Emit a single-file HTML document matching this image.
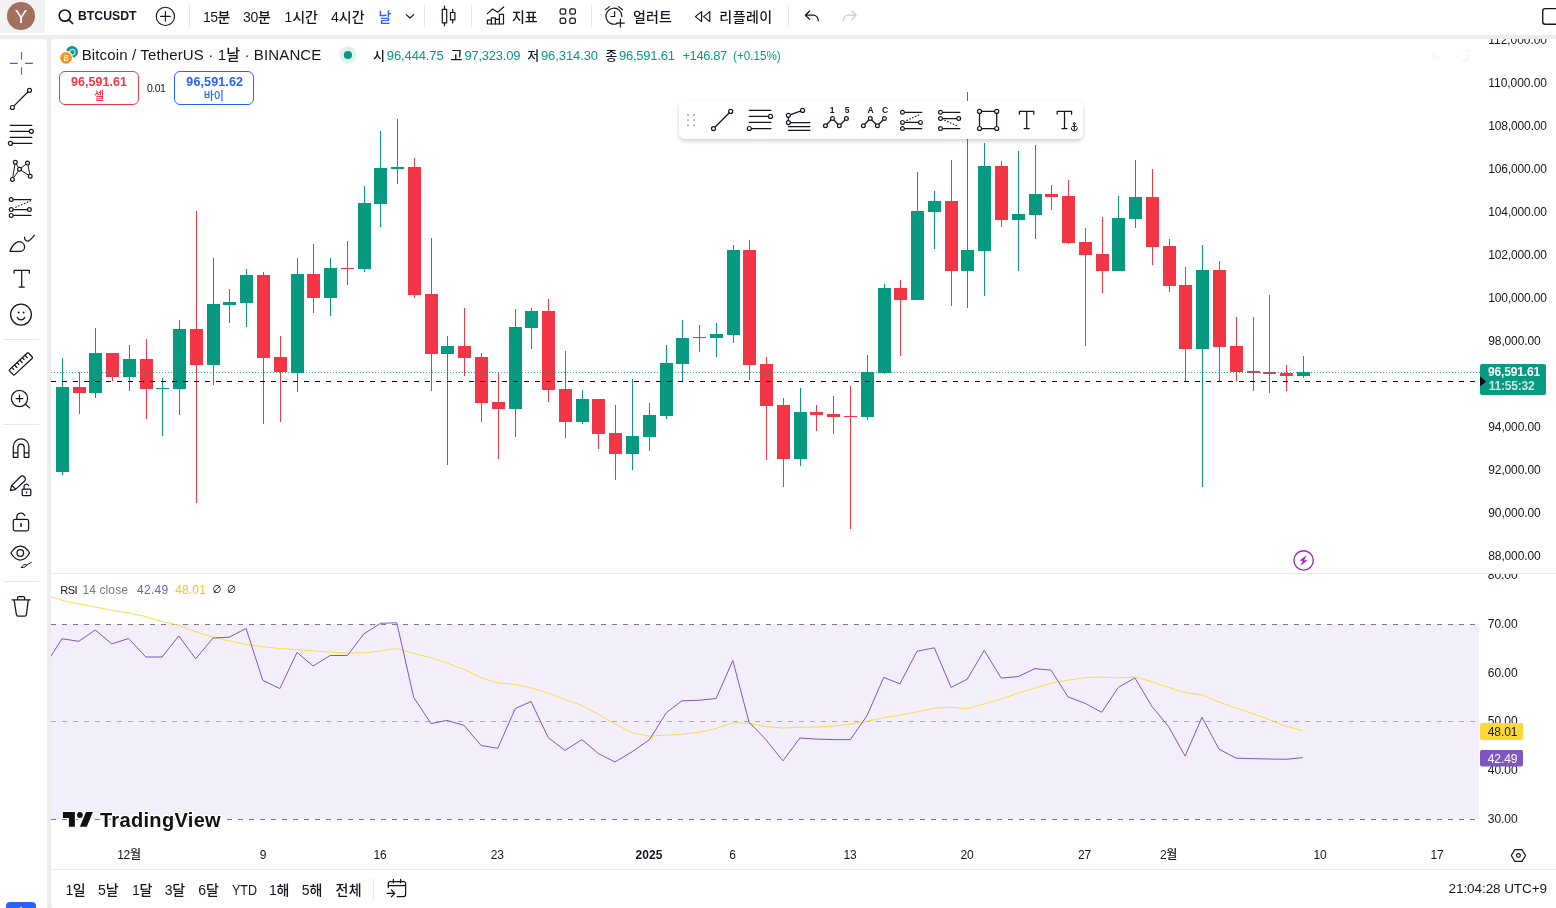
<!DOCTYPE html>
<html lang="ko"><head><meta charset="utf-8"><title>BTCUSDT 96,591.61</title>
<style>
html,body{margin:0;padding:0;}
body{width:1556px;height:908px;overflow:hidden;background:#ececec;font-family:"Liberation Sans", "Noto Sans CJK KR", sans-serif;position:relative;}
.abs{position:absolute;}
.t{position:absolute;white-space:nowrap;display:block;}
svg{position:absolute;left:0;top:0;overflow:visible;}
.ic{fill:none;stroke:#131722;stroke-width:1.25;stroke-linecap:round;stroke-linejoin:round;}
.icw{fill:#fff;stroke:#131722;stroke-width:1.2;}
</style></head><body>
<!-- top bar -->
<div class="abs" style="left:0;top:0;width:1556px;height:35px;background:#fff;"></div>
<div class="abs" style="left:0;top:0;width:45px;height:33px;background:#f2f2f2;border-radius:0 0 4px 0;"></div>
<div class="abs" style="left:7px;top:2px;width:28px;height:28px;border-radius:50%;background:#a56f5f;"></div>
<!-- left toolbar -->
<div class="abs" style="left:0;top:39px;width:47px;height:869px;background:#fff;border-radius:0 4px 0 0;"></div>
<!-- chart panel -->
<div class="abs" style="left:51px;top:39px;width:1505px;height:869px;background:#fff;border-radius:4px 0 0 4px;"></div>
<!-- separators in top bar -->
<div class="abs" style="left:189px;top:5px;width:1px;height:22px;background:#e6e8ee;"></div>
<div class="abs" style="left:424px;top:5px;width:1px;height:22px;background:#e6e8ee;"></div>
<div class="abs" style="left:471px;top:5px;width:1px;height:22px;background:#e6e8ee;"></div>
<div class="abs" style="left:591px;top:5px;width:1px;height:22px;background:#e6e8ee;"></div>
<div class="abs" style="left:788px;top:5px;width:1px;height:22px;background:#e6e8ee;"></div>
<!-- left toolbar separators -->
<div class="abs" style="left:3px;top:339px;width:36px;height:1px;background:#e4e6ec;"></div>
<div class="abs" style="left:3px;top:424px;width:36px;height:1px;background:#e4e6ec;"></div>
<div class="abs" style="left:3px;top:581px;width:36px;height:1px;background:#e4e6ec;"></div>
<!-- pane separators -->
<div class="abs" style="left:51px;top:573px;width:1505px;height:1px;background:#e9e9ec;"></div>
<div class="abs" style="left:51px;top:869px;width:1505px;height:1px;background:#e9e9ec;"></div>
<div class="abs" style="left:373px;top:878px;width:1px;height:22px;background:#e9e9ec;"></div>
<!-- blue button bottom-left -->
<div class="abs" style="left:6px;top:902px;width:30px;height:10px;background:#2962ff;border-radius:4px 4px 0 0;"></div>
<!-- RSI band -->
<div class="abs" style="left:51px;top:624px;width:1428px;height:195px;background:#f2eefa;"></div>

<!-- axis labels (clipped) -->
<div class="abs" style="left:0;top:39px;width:1556px;height:534px;overflow:hidden;"><div class="abs" style="left:0;top:-39px;width:1556px;height:908px;">
<span id="p88000" class="t" style="left:1488.30px;top:548.43px;font-size:12px;line-height:16px;color:#131722;font-weight:400;letter-spacing:-0.132px;">88,000.00</span>
<span id="p90000" class="t" style="left:1488.30px;top:505.41px;font-size:12px;line-height:16px;color:#131722;font-weight:400;letter-spacing:-0.132px;">90,000.00</span>
<span id="p92000" class="t" style="left:1488.30px;top:462.38px;font-size:12px;line-height:16px;color:#131722;font-weight:400;letter-spacing:-0.132px;">92,000.00</span>
<span id="p94000" class="t" style="left:1488.30px;top:419.35px;font-size:12px;line-height:16px;color:#131722;font-weight:400;letter-spacing:-0.132px;">94,000.00</span>
<span id="p98000" class="t" style="left:1488.30px;top:333.30px;font-size:12px;line-height:16px;color:#131722;font-weight:400;letter-spacing:-0.132px;">98,000.00</span>
<span id="p100000" class="t" style="left:1488.30px;top:290.28px;font-size:12px;line-height:16px;color:#131722;font-weight:400;letter-spacing:-0.146px;">100,000.00</span>
<span id="p102000" class="t" style="left:1488.30px;top:247.25px;font-size:12px;line-height:16px;color:#131722;font-weight:400;letter-spacing:-0.146px;">102,000.00</span>
<span id="p104000" class="t" style="left:1488.30px;top:204.22px;font-size:12px;line-height:16px;color:#131722;font-weight:400;letter-spacing:-0.146px;">104,000.00</span>
<span id="p106000" class="t" style="left:1488.30px;top:161.20px;font-size:12px;line-height:16px;color:#131722;font-weight:400;letter-spacing:-0.146px;">106,000.00</span>
<span id="p108000" class="t" style="left:1488.30px;top:118.17px;font-size:12px;line-height:16px;color:#131722;font-weight:400;letter-spacing:-0.146px;">108,000.00</span>
<span id="p110000" class="t" style="left:1488.30px;top:75.15px;font-size:12px;line-height:16px;color:#131722;font-weight:400;letter-spacing:-0.057px;">110,000.00</span>
<span id="p112000" class="t" style="left:1488.30px;top:32.12px;font-size:12px;line-height:16px;color:#131722;font-weight:400;letter-spacing:-0.057px;">112,000.00</span>
</div></div>
<div class="abs" style="left:0;top:574px;width:1556px;height:270px;overflow:hidden;"><div class="abs" style="left:0;top:-574px;width:1556px;height:908px;">
<span id="r80" class="t" style="left:1487.80px;top:567.25px;font-size:12px;line-height:16px;color:#131722;font-weight:400;letter-spacing:-0.066px;">80.00</span>
<span id="r70" class="t" style="left:1487.80px;top:615.90px;font-size:12px;line-height:16px;color:#131722;font-weight:400;letter-spacing:-0.066px;">70.00</span>
<span id="r60" class="t" style="left:1487.80px;top:664.55px;font-size:12px;line-height:16px;color:#131722;font-weight:400;letter-spacing:-0.066px;">60.00</span>
<span id="r50" class="t" style="left:1487.80px;top:713.20px;font-size:12px;line-height:16px;color:#131722;font-weight:400;letter-spacing:-0.066px;">50.00</span>
<span id="r40" class="t" style="left:1487.80px;top:761.85px;font-size:12px;line-height:16px;color:#131722;font-weight:400;letter-spacing:-0.066px;">40.00</span>
<span id="r30" class="t" style="left:1487.80px;top:810.50px;font-size:12px;line-height:16px;color:#131722;font-weight:400;letter-spacing:-0.066px;">30.00</span>
</div></div>

<svg width="1556" height="908" viewBox="0 0 1556 908">
<defs><clipPath id="cp"><rect x="51" y="574" width="1428" height="270"/></clipPath></defs>
<!-- price lines -->
<g shape-rendering="crispEdges">
<rect x="62" y="358" width="1" height="117" fill="#089981"/>
<rect x="56" y="387" width="13" height="85" fill="#089981"/>
<rect x="79" y="372" width="1" height="42" fill="#f23645"/>
<rect x="73" y="387" width="13" height="6" fill="#f23645"/>
<rect x="95" y="328" width="1" height="70" fill="#089981"/>
<rect x="89" y="353" width="13" height="40" fill="#089981"/>
<rect x="112" y="353" width="1" height="28" fill="#f23645"/>
<rect x="106" y="353" width="13" height="24" fill="#f23645"/>
<rect x="129" y="345" width="1" height="46" fill="#089981"/>
<rect x="123" y="359" width="13" height="18" fill="#089981"/>
<rect x="146" y="339" width="1" height="80" fill="#f23645"/>
<rect x="140" y="359" width="13" height="30" fill="#f23645"/>
<rect x="162" y="378" width="1" height="58" fill="#089981"/>
<rect x="156" y="388" width="13" height="1" fill="#089981"/>
<rect x="179" y="320" width="1" height="95" fill="#089981"/>
<rect x="173" y="329" width="13" height="60" fill="#089981"/>
<rect x="196" y="211" width="1" height="292" fill="#f23645"/>
<rect x="190" y="329" width="13" height="36" fill="#f23645"/>
<rect x="213" y="258" width="1" height="127" fill="#089981"/>
<rect x="207" y="304" width="13" height="61" fill="#089981"/>
<rect x="229" y="289" width="1" height="34" fill="#089981"/>
<rect x="223" y="302" width="13" height="3" fill="#089981"/>
<rect x="246" y="269" width="1" height="58" fill="#089981"/>
<rect x="240" y="275" width="13" height="28" fill="#089981"/>
<rect x="263" y="272" width="1" height="152" fill="#f23645"/>
<rect x="257" y="275" width="13" height="83" fill="#f23645"/>
<rect x="280" y="336" width="1" height="86" fill="#f23645"/>
<rect x="274" y="357" width="13" height="15" fill="#f23645"/>
<rect x="297" y="258" width="1" height="134" fill="#089981"/>
<rect x="291" y="274" width="13" height="99" fill="#089981"/>
<rect x="313" y="244" width="1" height="69" fill="#f23645"/>
<rect x="307" y="274" width="13" height="24" fill="#f23645"/>
<rect x="330" y="258" width="1" height="58" fill="#089981"/>
<rect x="324" y="268" width="13" height="30" fill="#089981"/>
<rect x="347" y="241" width="1" height="44" fill="#f23645"/>
<rect x="341" y="268" width="13" height="1" fill="#f23645"/>
<rect x="364" y="186" width="1" height="86" fill="#089981"/>
<rect x="358" y="203" width="13" height="66" fill="#089981"/>
<rect x="380" y="131" width="1" height="96" fill="#089981"/>
<rect x="374" y="168" width="13" height="36" fill="#089981"/>
<rect x="397" y="119" width="1" height="65" fill="#089981"/>
<rect x="391" y="167" width="13" height="2" fill="#089981"/>
<rect x="414" y="158" width="1" height="140" fill="#f23645"/>
<rect x="408" y="167" width="13" height="128" fill="#f23645"/>
<rect x="431" y="238" width="1" height="153" fill="#f23645"/>
<rect x="425" y="294" width="13" height="60" fill="#f23645"/>
<rect x="447" y="336" width="1" height="129" fill="#089981"/>
<rect x="441" y="346" width="13" height="8" fill="#089981"/>
<rect x="464" y="308" width="1" height="68" fill="#f23645"/>
<rect x="458" y="346" width="13" height="12" fill="#f23645"/>
<rect x="481" y="353" width="1" height="69" fill="#f23645"/>
<rect x="475" y="357" width="13" height="46" fill="#f23645"/>
<rect x="498" y="372" width="1" height="87" fill="#f23645"/>
<rect x="492" y="402" width="13" height="7" fill="#f23645"/>
<rect x="515" y="309" width="1" height="128" fill="#089981"/>
<rect x="509" y="327" width="13" height="82" fill="#089981"/>
<rect x="531" y="308" width="1" height="41" fill="#089981"/>
<rect x="525" y="311" width="13" height="17" fill="#089981"/>
<rect x="548" y="299" width="1" height="103" fill="#f23645"/>
<rect x="542" y="311" width="13" height="79" fill="#f23645"/>
<rect x="565" y="351" width="1" height="87" fill="#f23645"/>
<rect x="559" y="389" width="13" height="33" fill="#f23645"/>
<rect x="582" y="390" width="1" height="34" fill="#089981"/>
<rect x="576" y="399" width="13" height="23" fill="#089981"/>
<rect x="598" y="399" width="1" height="50" fill="#f23645"/>
<rect x="592" y="399" width="13" height="35" fill="#f23645"/>
<rect x="615" y="405" width="1" height="75" fill="#f23645"/>
<rect x="609" y="433" width="13" height="21" fill="#f23645"/>
<rect x="632" y="379" width="1" height="91" fill="#089981"/>
<rect x="626" y="436" width="13" height="18" fill="#089981"/>
<rect x="649" y="403" width="1" height="48" fill="#089981"/>
<rect x="643" y="415" width="13" height="22" fill="#089981"/>
<rect x="666" y="345" width="1" height="74" fill="#089981"/>
<rect x="660" y="363" width="13" height="53" fill="#089981"/>
<rect x="682" y="320" width="1" height="62" fill="#089981"/>
<rect x="676" y="338" width="13" height="26" fill="#089981"/>
<rect x="699" y="325" width="1" height="27" fill="#089981"/>
<rect x="693" y="337" width="13" height="1" fill="#089981"/>
<rect x="716" y="323" width="1" height="34" fill="#089981"/>
<rect x="710" y="334" width="13" height="4" fill="#089981"/>
<rect x="733" y="245" width="1" height="98" fill="#089981"/>
<rect x="727" y="250" width="13" height="85" fill="#089981"/>
<rect x="749" y="240" width="1" height="140" fill="#f23645"/>
<rect x="743" y="250" width="13" height="115" fill="#f23645"/>
<rect x="766" y="357" width="1" height="103" fill="#f23645"/>
<rect x="760" y="364" width="13" height="42" fill="#f23645"/>
<rect x="783" y="398" width="1" height="89" fill="#f23645"/>
<rect x="777" y="405" width="13" height="54" fill="#f23645"/>
<rect x="800" y="388" width="1" height="78" fill="#089981"/>
<rect x="794" y="412" width="13" height="47" fill="#089981"/>
<rect x="816" y="405" width="1" height="26" fill="#f23645"/>
<rect x="810" y="412" width="13" height="3" fill="#f23645"/>
<rect x="833" y="396" width="1" height="38" fill="#f23645"/>
<rect x="827" y="414" width="13" height="3" fill="#f23645"/>
<rect x="850" y="386" width="1" height="143" fill="#f23645"/>
<rect x="844" y="416" width="13" height="1" fill="#f23645"/>
<rect x="867" y="355" width="1" height="65" fill="#089981"/>
<rect x="861" y="372" width="13" height="45" fill="#089981"/>
<rect x="884" y="284" width="1" height="90" fill="#089981"/>
<rect x="878" y="288" width="13" height="85" fill="#089981"/>
<rect x="900" y="280" width="1" height="76" fill="#f23645"/>
<rect x="894" y="288" width="13" height="12" fill="#f23645"/>
<rect x="917" y="172" width="1" height="128" fill="#089981"/>
<rect x="911" y="211" width="13" height="89" fill="#089981"/>
<rect x="934" y="191" width="1" height="58" fill="#089981"/>
<rect x="928" y="201" width="13" height="11" fill="#089981"/>
<rect x="951" y="160" width="1" height="146" fill="#f23645"/>
<rect x="945" y="201" width="13" height="70" fill="#f23645"/>
<rect x="967" y="92" width="1" height="216" fill="#089981"/>
<rect x="961" y="250" width="13" height="21" fill="#089981"/>
<rect x="984" y="143" width="1" height="153" fill="#089981"/>
<rect x="978" y="166" width="13" height="85" fill="#089981"/>
<rect x="1001" y="161" width="1" height="66" fill="#f23645"/>
<rect x="995" y="166" width="13" height="54" fill="#f23645"/>
<rect x="1018" y="151" width="1" height="120" fill="#089981"/>
<rect x="1012" y="214" width="13" height="6" fill="#089981"/>
<rect x="1035" y="145" width="1" height="94" fill="#089981"/>
<rect x="1029" y="194" width="13" height="21" fill="#089981"/>
<rect x="1051" y="185" width="1" height="25" fill="#f23645"/>
<rect x="1045" y="194" width="13" height="3" fill="#f23645"/>
<rect x="1068" y="180" width="1" height="64" fill="#f23645"/>
<rect x="1062" y="196" width="13" height="47" fill="#f23645"/>
<rect x="1085" y="228" width="1" height="118" fill="#f23645"/>
<rect x="1079" y="242" width="13" height="13" fill="#f23645"/>
<rect x="1102" y="217" width="1" height="76" fill="#f23645"/>
<rect x="1096" y="254" width="13" height="17" fill="#f23645"/>
<rect x="1118" y="196" width="1" height="75" fill="#089981"/>
<rect x="1112" y="218" width="13" height="53" fill="#089981"/>
<rect x="1135" y="160" width="1" height="68" fill="#089981"/>
<rect x="1129" y="197" width="13" height="22" fill="#089981"/>
<rect x="1152" y="169" width="1" height="96" fill="#f23645"/>
<rect x="1146" y="197" width="13" height="50" fill="#f23645"/>
<rect x="1169" y="239" width="1" height="53" fill="#f23645"/>
<rect x="1163" y="246" width="13" height="40" fill="#f23645"/>
<rect x="1185" y="267" width="1" height="115" fill="#f23645"/>
<rect x="1179" y="285" width="13" height="64" fill="#f23645"/>
<rect x="1202" y="245" width="1" height="242" fill="#089981"/>
<rect x="1196" y="270" width="13" height="79" fill="#089981"/>
<rect x="1219" y="261" width="1" height="121" fill="#f23645"/>
<rect x="1213" y="270" width="13" height="77" fill="#f23645"/>
<rect x="1236" y="317" width="1" height="64" fill="#f23645"/>
<rect x="1230" y="346" width="13" height="26" fill="#f23645"/>
<rect x="1253" y="317" width="1" height="74" fill="#f23645"/>
<rect x="1247" y="371" width="13" height="2" fill="#f23645"/>
<rect x="1269" y="295" width="1" height="98" fill="#f23645"/>
<rect x="1263" y="372" width="13" height="2" fill="#f23645"/>
<rect x="1286" y="365" width="1" height="26" fill="#f23645"/>
<rect x="1280" y="373" width="13" height="3" fill="#f23645"/>
<rect x="1303" y="356" width="1" height="22" fill="#089981"/>
<rect x="1297" y="372" width="13" height="4" fill="#089981"/>
</g>
<line x1="51" x2="1480" y1="372.5" y2="372.5" stroke="#089981" stroke-width="1" stroke-dasharray="1 2" shape-rendering="crispEdges" opacity="0.8"/>
<line x1="51" x2="1480" y1="381.5" y2="381.5" stroke="#000" stroke-width="1.15" stroke-dasharray="5 6"/>
<!-- RSI levels -->
<g stroke="#787b86" stroke-width="1" stroke-dasharray="5 6" shape-rendering="crispEdges">
<line x1="51" x2="1479" y1="624.5" y2="624.5"/>
<line x1="51" x2="1479" y1="721.5" y2="721.5" stroke="#a9abb3"/>
<line x1="51" x2="1479" y1="819.5" y2="819.5"/>
</g>
<g clip-path="url(#cp)" fill="none" stroke-linejoin="round">
<polyline points="45.3,595.5 51.0,596.9 66.4,601.5 81.8,604.3 97.3,607.4 112.7,610.5 128.1,612.8 143.5,616.1 161.5,621.3 178.8,625.4 195.0,631.6 213.0,637.2 231.0,641.3 246.4,644.4 262.8,646.7 279.8,648.5 297.0,649.6 313.0,650.8 330.2,652.1 347.4,653.1 363.9,652.9 380.6,650.8 396.8,648.5 413.7,653.4 431.0,657.8 446.9,663.0 464.1,669.4 481.1,677.9 497.8,682.8 515.3,684.3 531.0,687.9 548.2,693.1 564.9,699.5 581.9,705.4 598.6,714.4 615.0,723.9 632.3,732.9 649.5,736.2 666.4,735.2 681.9,734.2 698.8,732.4 716.1,728.5 732.8,722.9 749.0,723.4 765.9,726.5 782.9,728.0 799.9,727.2 816.8,727.0 834.3,726.2 850.3,724.2 867.0,721.3 883.7,717.7 899.9,715.2 917.1,711.8 934.3,708.2 951.1,707.2 967.2,708.7 984.2,703.9 1001.2,699.0 1018.1,693.1 1034.9,688.2 1051.1,683.0 1068.0,680.2 1085.0,677.6 1101.7,677.1 1118.4,677.9 1134.9,677.1 1152.1,681.7 1168.5,687.4 1185.3,692.6 1202.0,694.9 1219.1,702.0 1236.2,708.1 1252.7,713.6 1269.2,719.6 1286.3,726.3 1302.8,730.7" stroke="#fdd835" stroke-width="1" opacity="0.9"/>
<polyline points="45.3,664.9 62.0,638.8 78.8,641.3 95.2,630.0 111.7,643.9 128.6,638.5 145.9,657.0 162.0,657.0 178.8,635.9 195.7,658.8 213.0,638.0 229.1,637.2 246.1,628.5 262.8,680.4 279.8,688.6 297.0,652.4 313.0,666.0 330.2,655.5 347.4,655.5 363.9,633.9 380.6,623.3 396.8,622.8 413.7,697.4 431.0,723.6 446.9,720.4 464.1,725.4 481.1,745.5 497.8,748.3 515.3,708.5 531.0,701.5 548.2,737.5 564.9,750.4 581.9,739.6 598.6,753.7 615.0,762.0 632.3,751.7 649.5,739.6 666.4,712.6 681.9,700.8 698.8,700.3 716.1,698.5 732.8,660.4 749.0,722.1 765.9,739.6 782.9,760.9 799.9,738.0 816.8,739.1 834.2,739.6 850.3,739.6 867.0,715.7 883.7,677.4 899.9,683.8 917.1,651.2 934.3,647.8 951.1,687.4 967.2,679.2 984.2,650.4 1001.2,678.1 1018.1,676.6 1034.9,668.6 1051.1,670.2 1068.0,696.9 1085.0,703.3 1101.7,712.3 1118.4,687.4 1134.9,677.9 1152.1,706.7 1168.5,726.5 1185.1,756.0 1202.0,717.3 1219.0,749.1 1236.2,758.2 1252.7,758.6 1269.2,759.0 1286.3,759.3 1302.8,757.6" stroke="#7e57c2" stroke-width="1"/>
</g>
<!-- price label boxes -->
<rect x="1480" y="364" width="66" height="31" rx="2" fill="#089981"/>
<path d="M1480 376.5 L1486.2 381.5 L1480 386.5 Z" fill="#0b0b0b"/>
<rect x="1480" y="723" width="43" height="17" rx="2" fill="#fdd835"/>
<rect x="1480" y="750" width="43" height="16.5" rx="2" fill="#7e57c2"/>
<g class="ic" style="stroke-width:1.7"><circle cx="64.8" cy="15.6" r="5.6"/><line x1="68.9" y1="19.8" x2="72.6" y2="23.5"/></g>
<g class="ic" style="stroke-width:1.15"><circle cx="165.4" cy="16.4" r="9.1"/><path d="M165.4 11.6V21.2M160.6 16.4H170.2"/></g>
<path class="ic" style="stroke-width:1.2" d="M406.2 14.6L410 18L413.8 14.6"/>
<g class="ic" style="stroke-width:1.2"><rect x="442.3" y="9.4" width="4.4" height="13.5"/><path d="M444.5 6.2V9.4M444.5 22.9V25.7"/><rect x="450.5" y="12.5" width="4.4" height="7.3"/><path d="M452.7 9.3V12.5M452.7 19.8V22.9"/></g>
<g class="ic" style="stroke-width:1.2"><path d="M487.4 13.6L492.6 9L497.7 12.2L503.7 7"/><path d="M487.4 24V20.2H491.4V17.8H495.4V19.4H499.4V14.4H503.5V24Z"/><path d="M491.4 20.2V24M495.4 19.4V24M499.4 19.4V24"/></g>
<g class="ic" style="stroke-width:1.25"><rect x="560.1" y="8.8" width="5.6" height="5.2" rx="1.6"/><rect x="569.8" y="8.8" width="5.6" height="5.2" rx="1.6"/><rect x="560.1" y="18.1" width="5.6" height="5.2" rx="1.6"/><rect x="569.8" y="18.1" width="5.6" height="5.2" rx="1.6"/></g>
<g class="ic" style="stroke-width:1.2"><path d="M617 23.6A8 8 0 1 1 621.9 16.6"/><path d="M614.6 11.6V16.5H611"/><path d="M605.6 9.6L609.4 6.6M618.6 6.6L622.4 9.8"/><path d="M620.4 19.2V27M616.5 23.1H624.3"/></g>
<g class="ic" style="stroke-width:1.2"><path d="M701.6 11.6V21.6L695.4 16.6Z"/><path d="M709.8 11.6V21.6L703.6 16.6Z"/></g>
<path class="ic" style="stroke-width:1.25" d="M809.6 11L805.4 15.2L809.6 19.4M805.6 15.2H813.2A5 5 0 0 1 818.2 20.2V20.8"/>
<path class="ic" style="stroke:#c9ccd3;stroke-width:1.25" d="M851.9 11L856.1 15.2L851.9 19.4M855.9 15.2H848.3A5 5 0 0 0 843.3 20.2V20.8"/>
<rect class="ic" style="stroke-width:1.4" x="1542.7" y="8.6" width="20" height="15.6" rx="2.5"/>
<circle cx="72.1" cy="51.9" r="5.9" fill="#0f8d8f"/><circle cx="72.3" cy="52.2" r="2.7" fill="#0f8d8f" stroke="#8ee6e3" stroke-width="1.4"/><circle cx="66.05" cy="57.85" r="7" fill="#fff"/><circle cx="66.05" cy="57.85" r="5.95" fill="#f39a1d"/><text x="0" y="0" transform="translate(66.1 60.75) scale(0.8 1)" text-anchor="middle" font-size="8.2" font-weight="700" font-style="italic" fill="#fff8e8" font-family="Liberation Sans, sans-serif">B</text>
<circle cx="347.9" cy="55" r="8.7" fill="#089981" opacity="0.13"/><circle cx="347.9" cy="55" r="4.1" fill="#089981"/>
<path d="M21.5 52V59.6M21.5 67.2V74.8M9.9 63.4H17.7M25.1 63.4H32.9" stroke="#2962ff" stroke-width="1.1" fill="none"/>
<g class="ic"><line x1="13.8" y1="106.1" x2="28.1" y2="91.7"/><circle cx="12.4" cy="107.5" r="2.0" class="icw"/><circle cx="29.5" cy="90.3" r="2.0" class="icw"/></g>
<g class="ic"><path d="M10.2 125.3H31.8M10.2 131.3H29.2M10.2 137.3H31.8M12.6 143.4H31.8"/><circle cx="31.3" cy="131.3" r="2.0" class="icw"/><circle cx="10.4" cy="143.4" r="2.0" class="icw"/></g>
<g class="ic" style="stroke-width:1"><path d="M12.4 179.4L15.3 162.2L19.5 169.3L12.4 179.4M19.5 169.3L27.5 163.1L30.2 176.2L19.5 169.3"/><circle cx="15.3" cy="162.2" r="1.9" class="icw"/><circle cx="27.5" cy="163.1" r="1.9" class="icw"/><circle cx="19.5" cy="169.3" r="1.9" class="icw"/><circle cx="30.2" cy="176.2" r="1.9" class="icw"/><circle cx="12.4" cy="179.4" r="1.9" class="icw"/></g>
<g class="ic"><path d="M13 199.5H31M13 209.6H27.6M13 215.4H31"/><path d="M15.8 207.2L30.6 200.8" stroke-dasharray="0.5 2.6"/><circle cx="11.2" cy="199.5" r="1.9" class="icw"/><circle cx="11.2" cy="209.6" r="1.9" class="icw"/><circle cx="29.4" cy="209.6" r="1.9" class="icw"/><circle cx="11.2" cy="215.4" r="1.9" class="icw"/></g>
<g class="ic"><path d="M10 251.3C11.5 246.5 15 242.4 18 241.8C21.5 241.2 24.6 243.6 24.6 246.8C24.6 249.6 22.6 251.3 20.4 251.3Z"/><path d="M24.6 237.2C24.4 239.6 26 241.4 28 241.2C30.4 240.2 32.4 237.6 34.4 235.2"/></g>
<path class="ic" d="M14.1 273.2V270.4H29.3V273.2M21.7 270.4V287.2M19.2 287.2H24.2"/>
<g class="ic"><circle cx="21" cy="314.6" r="10.4"/><path d="M17.2 317.4A4.2 4.2 0 0 0 24.8 317.4"/></g><circle cx="18.6" cy="312.4" r="1" fill="#131722"/><circle cx="23.6" cy="312.4" r="1" fill="#131722"/>
<g class="ic" transform="translate(20.9 363.9) rotate(-43.2)"><rect x="-13" y="-3.6" width="26" height="7.2" rx="0.8"/><path d="M-9 -3.6V-1M-5.4 -3.6V-0.2M-1.8 -3.6V-1M1.8 -3.6V-0.2M5.4 -3.6V-1M9 -3.6V-0.2"/></g>
<g class="ic"><circle cx="19.5" cy="398.5" r="8.1"/><path d="M19.5 395.2V401.8M16.2 398.5H22.8M25.4 404.3L29.4 407.9"/></g>
<path class="ic" d="M13.3 457.3V446.6A7.8 7.8 0 0 1 28.9 446.6V457.3H24.2V446.8A3.2 3.2 0 0 0 17.9 446.8V457.3ZM13.3 452.9H17.9M24.2 452.9H28.9"/>
<g class="ic"><path d="M10.4 490.4L11.6 485.6L20.4 476.8A2.6 2.6 0 0 1 24.2 476.8L24.6 477.2A2.6 2.6 0 0 1 24.6 481L15.2 489.6ZM12 485.4L15.4 489.2"/><rect x="22.2" y="489.2" width="8.6" height="6.4" rx="1" fill="#fff"/><path d="M24 489.2V486.6A2.3 2.3 0 0 1 28.4 485.6"/></g><rect x="26" y="491.4" width="1.2" height="2" fill="#131722"/>
<g class="ic"><rect x="13.3" y="519.4" width="15.3" height="11.4" rx="1.8"/><path d="M16.8 519.4V517A4.1 4.1 0 0 1 24.7 515.6"/></g><rect x="20.2" y="523.2" width="1.6" height="3.6" fill="#131722"/>
<g class="ic"><path d="M11 553C13.6 548.4 16.8 546 20.3 546C23.8 546 27 548.4 29.5 553C27 557.6 23.8 560 20.3 560C16.8 560 13.6 557.6 11 553Z"/><circle cx="20.3" cy="553" r="3.3"/><path d="M21.4 567.6C22.6 565 24.4 564 26.4 564.8C26.6 566.6 24.4 567.8 21.4 567.6ZM26.8 565L31.4 562.4" stroke-width="1"/></g>
<path class="ic" d="M12 599.8H30.2M17.6 599.6V597.6A1 1 0 0 1 18.6 596.6H23.6A1 1 0 0 1 24.6 597.6V599.6M14.1 599.8L16.4 614.6A1.8 1.8 0 0 0 18.2 616.1H24.6A1.8 1.8 0 0 0 26.4 614.6L28.3 599.8"/>
<circle cx="1303.6" cy="560.4" r="9.7" fill="none" stroke="#9c27b0" stroke-width="1.35"/><path d="M1306.6 555.2L1299.4 560.7H1302.9L1300.4 565.7L1307.6 560.2H1304.1Z" fill="#9c27b0"/>
<g class="ic" style="stroke-width:1.2"><path d="M1511.3 855.5L1514.9 849.6H1521.9L1525.6 855.5L1521.9 861.4H1514.9Z"/><circle cx="1518.4" cy="855.5" r="1.9"/></g>
<g class="ic" style="stroke-width:1.25"><path d="M388.3 887.6V883.6A2 2 0 0 1 390.3 881.6H403.6A2 2 0 0 1 405.6 883.6V894.5A2 2 0 0 1 403.6 896.5H397.2M388.3 885.7H405.6M393.4 879.3V882.8M400.6 879.3V882.8M387.2 893.4H394.6M391.4 890L394.8 893.4L391.4 896.8"/></g>
<g stroke="#fff" stroke-width="2.4" stroke-linejoin="round" fill="#fff"><path d="M62.9 812.1H74.9V826.8H68.9V817.9H62.9Z"/><circle cx="79.9" cy="815" r="2.9"/><path d="M86 812.1H92.9L86.8 826.8H79.9Z"/></g><g fill="#111"><path d="M62.9 812.1H74.9V826.8H68.9V817.9H62.9Z"/><circle cx="79.9" cy="815" r="2.9"/><path d="M86 812.1H92.9L86.8 826.8H79.9Z"/></g>
<g fill="none" stroke="#f3f3f3" stroke-width="1.1"><path d="M1432.6 52.4V59.6M1435.4 52.2V59.6L1439.6 56"/><path d="M1460 50.5H1468V60.5H1460M1458.4 56V60"/></g>
<circle cx="21" cy="907.6" r="1.1" fill="#b9d4ff"/>
</svg>

<!-- sell/buy -->
<div class="abs" style="left:59.3px;top:71px;width:77.4px;height:31.6px;border:1px solid #f23645;border-radius:6px;"></div>
<div class="abs" style="left:173.8px;top:71px;width:78.2px;height:31.6px;border:1px solid #2962ff;border-radius:6px;"></div>
<!-- floating toolbar -->
<div class="abs" style="left:678.6px;top:101.4px;width:404.5px;height:37.6px;background:#fff;border-radius:6px;box-shadow:0 2px 4px rgba(0,0,0,0.2);"></div>
<svg width="1556" height="908" viewBox="0 0 1556 908">
<rect x="687" y="114.1" width="2" height="2" rx="0.4" fill="#b6b6ba"/>
<rect x="687" y="119" width="2" height="2" rx="0.4" fill="#b6b6ba"/>
<rect x="687" y="124" width="2" height="2" rx="0.4" fill="#b6b6ba"/>
<rect x="693" y="114.1" width="2" height="2" rx="0.4" fill="#b6b6ba"/>
<rect x="693" y="119" width="2" height="2" rx="0.4" fill="#b6b6ba"/>
<rect x="693" y="124" width="2" height="2" rx="0.4" fill="#b6b6ba"/>
<g class="ic"><line x1="714.9" y1="127.2" x2="729.3" y2="112.8"/><circle cx="713.5" cy="128.6" r="2.0" class="icw"/><circle cx="730.7" cy="111.4" r="2.0" class="icw"/></g>
<g class="ic"><path d="M749.3 110.4H770.9M749.3 116.4H768.4M749.3 122.4H770.9M751.4 128.5H770.9"/><circle cx="770.5" cy="116.4" r="2.0" class="icw"/><circle cx="749.3" cy="128.5" r="2.0" class="icw"/></g>
<g class="ic"><path d="M788.4 115.3L802.6 110.4M788.4 115.3V122.6M788.4 122.6H809.9M788.4 126.5H809.9M788.4 130.4H809.9"/><circle cx="788.4" cy="115.3" r="2.0" class="icw"/><circle cx="802.6" cy="110.4" r="2.0" class="icw"/><circle cx="788.4" cy="122.6" r="2.0" class="icw"/></g>
<g class="ic"><path d="M825.4 125.7L832.5 118.5L839.3 125.7L846.4 118.5"/><circle cx="825.4" cy="125.7" r="1.9" class="icw"/><circle cx="832.5" cy="118.5" r="1.9" class="icw"/><circle cx="839.3" cy="125.7" r="1.9" class="icw"/><circle cx="846.4" cy="118.5" r="1.9" class="icw"/></g>
<g class="ic"><path d="M863.3 125.7L870.3 118.5L877.4 125.7L884.5 118.5"/><circle cx="863.3" cy="125.7" r="1.9" class="icw"/><circle cx="870.3" cy="118.5" r="1.9" class="icw"/><circle cx="877.4" cy="125.7" r="1.9" class="icw"/><circle cx="884.5" cy="118.5" r="1.9" class="icw"/></g>
<g class="ic"><path d="M904.5 112.3H921.8M904.5 122.4H918.5M904.5 128.5H921.8"/><path d="M907 120.3L920.5 114.2" stroke-dasharray="0.5 2.6"/><circle cx="902.5" cy="112.3" r="1.9" class="icw"/><circle cx="902.5" cy="122.4" r="1.9" class="icw"/><circle cx="920.5" cy="122.4" r="1.9" class="icw"/><circle cx="902.5" cy="128.5" r="1.9" class="icw"/></g>
<g class="ic"><path d="M942.5 112.3H959.9M942.5 118.5H956.7M942.5 128.5H959.9"/><path d="M944.8 120.3L958.3 126.3" stroke-dasharray="0.5 2.6"/><circle cx="940.5" cy="112.3" r="1.9" class="icw"/><circle cx="940.5" cy="118.5" r="1.9" class="icw"/><circle cx="958.7" cy="118.5" r="1.9" class="icw"/><circle cx="940.5" cy="128.5" r="1.9" class="icw"/></g>
<g class="ic"><rect x="979.5" y="111.4" width="17.2" height="17.1"/><circle cx="979.5" cy="111.4" r="2.0" class="icw"/><circle cx="996.7" cy="111.4" r="2.0" class="icw"/><circle cx="979.5" cy="128.5" r="2.0" class="icw"/><circle cx="996.7" cy="128.5" r="2.0" class="icw"/></g>
<path class="ic" d="M1019.4 114.2V111.4H1033.8V114.2M1026.7 111.4V128.5M1024.1 128.5H1029.2"/>
<path class="ic" d="M1057.2 114.2V111.4H1071.6V114.2M1064.5 111.4V128.5M1062 128.5H1067"/>
<g class="ic" style="stroke-width:1"><circle cx="1074.3" cy="123.6" r="1"/><path d="M1074.3 124.6V130.6M1072.3 126.4H1076.3M1071.2 127.8A3.1 3.1 0 0 0 1077.4 127.8"/></g>
</svg>
<span id="sym" class="t" style="left:77.70px;top:7.35px;font-size:13.5px;line-height:17.5px;color:#131722;font-weight:700;transform:scaleX(0.9070);transform-origin:0 50%;">BTCUSDT</span>
<span id="i15" class="t" style="left:203.00px;top:8.30px;font-size:14px;line-height:18px;color:#131722;font-weight:500;letter-spacing:-0.551px;">15분</span>
<span id="i30" class="t" style="left:243.10px;top:8.30px;font-size:14px;line-height:18px;color:#131722;font-weight:500;letter-spacing:-0.351px;">30분</span>
<span id="i1h" class="t" style="left:284.40px;top:8.30px;font-size:14px;line-height:18px;color:#131722;font-weight:500;letter-spacing:-0.049px;">1시간</span>
<span id="i4h" class="t" style="left:330.90px;top:8.30px;font-size:14px;line-height:18px;color:#131722;font-weight:500;letter-spacing:0.051px;">4시간</span>
<span id="iD" class="t" style="left:385.05px;top:8.30px;font-size:14px;line-height:18px;color:#2962ff;font-weight:500;transform:translateX(-50%);">날</span>
<span id="ind" class="t" style="left:511.90px;top:8.30px;font-size:14px;line-height:18px;color:#131722;font-weight:500;letter-spacing:0.067px;">지표</span>
<span id="alert" class="t" style="left:633.00px;top:8.30px;font-size:14px;line-height:18px;color:#131722;font-weight:500;letter-spacing:0.120px;">얼러트</span>
<span id="replay" class="t" style="left:719.30px;top:8.30px;font-size:14px;line-height:18px;color:#131722;font-weight:500;letter-spacing:0.467px;">리플레이</span>
<span id="avY" class="t" style="left:21.00px;top:4.80px;font-size:19px;line-height:23px;color:#fff;font-weight:400;transform:translateX(-50%);">Y</span>
<span id="title" class="t" style="left:81.70px;top:45.10px;font-size:15px;line-height:19px;color:#131722;font-weight:500;letter-spacing:0.137px;">Bitcoin / TetherUS · 1날 · BINANCE</span>
<span id="lo" class="t" style="left:378.90px;top:47.10px;font-size:13px;line-height:17px;color:#131722;font-weight:500;transform:translateX(-50%);">시</span>
<span id="lov" class="t" style="left:386.80px;top:47.10px;font-size:13px;line-height:17px;color:#089981;font-weight:400;letter-spacing:-0.116px;">96,444.75</span>
<span id="lh" class="t" style="left:456.40px;top:47.10px;font-size:13px;line-height:17px;color:#131722;font-weight:500;transform:translateX(-50%);">고</span>
<span id="lhv" class="t" style="left:464.50px;top:47.10px;font-size:13px;line-height:17px;color:#089981;font-weight:400;letter-spacing:-0.238px;">97,323.09</span>
<span id="ll" class="t" style="left:533.30px;top:47.10px;font-size:13px;line-height:17px;color:#131722;font-weight:500;transform:translateX(-50%);">저</span>
<span id="llv" class="t" style="left:541.00px;top:47.10px;font-size:13px;line-height:17px;color:#089981;font-weight:400;letter-spacing:-0.105px;">96,314.30</span>
<span id="lc" class="t" style="left:611.35px;top:47.10px;font-size:13px;line-height:17px;color:#131722;font-weight:500;transform:translateX(-50%);">종</span>
<span id="lcv" class="t" style="left:618.90px;top:47.10px;font-size:13px;line-height:17px;color:#089981;font-weight:400;letter-spacing:-0.227px;">96,591.61</span>
<span id="lchg" class="t" style="left:682.40px;top:47.10px;font-size:13px;line-height:17px;color:#089981;font-weight:400;letter-spacing:-0.408px;">+146.87</span>
<span id="lpct" class="t" style="left:732.60px;top:47.10px;font-size:13px;line-height:17px;color:#089981;font-weight:400;transform:scaleX(0.8979);transform-origin:0 50%;">(+0.15%)</span>
<span id="sellp" class="t" style="left:71.00px;top:73.75px;font-size:12.5px;line-height:16.5px;color:#f23645;font-weight:700;letter-spacing:0.043px;">96,591.61</span>
<span id="selll" class="t" style="left:99.00px;top:88.80px;font-size:11px;line-height:15px;color:#f23645;font-weight:500;transform:translateX(-50%);">셀</span>
<span id="spread" class="t" style="left:147.00px;top:81.45px;font-size:10.5px;line-height:14.5px;color:#131722;font-weight:400;letter-spacing:-0.509px;">0.01</span>
<span id="buyp" class="t" style="left:186.30px;top:73.75px;font-size:12.5px;line-height:16.5px;color:#2962ff;font-weight:700;letter-spacing:0.132px;">96,591.62</span>
<span id="buyl" class="t" style="left:203.80px;top:88.80px;font-size:11px;line-height:15px;color:#2962ff;font-weight:500;letter-spacing:-0.075px;">바이</span>
<span id="plp" class="t" style="left:1488.10px;top:364.30px;font-size:12px;line-height:16px;color:#fff;font-weight:700;letter-spacing:-0.177px;">96,591.61</span>
<span id="plt" class="t" style="left:1488.70px;top:377.80px;font-size:12px;line-height:16px;color:rgba(255,255,255,0.78);font-weight:700;letter-spacing:-0.209px;">11:55:32</span>
<span id="lma" class="t" style="left:1487.70px;top:723.60px;font-size:12px;line-height:16px;color:#131722;font-weight:400;letter-spacing:-0.046px;">48.01</span>
<span id="lrsi" class="t" style="left:1487.70px;top:750.50px;font-size:12px;line-height:16px;color:#fff;font-weight:400;letter-spacing:-0.046px;">42.49</span>
<span id="t12" class="t" style="left:117.15px;top:847.20px;font-size:12px;line-height:16px;color:#131722;font-weight:500;letter-spacing:-0.297px;">12월</span>
<span id="t9" class="t" style="left:263.00px;top:847.20px;font-size:12px;line-height:16px;color:#131722;font-weight:400;transform:translateX(-50%);">9</span>
<span id="t16" class="t" style="left:373.50px;top:847.20px;font-size:12px;line-height:16px;color:#131722;font-weight:400;letter-spacing:-0.180px;">16</span>
<span id="t23" class="t" style="left:490.80px;top:847.20px;font-size:12px;line-height:16px;color:#131722;font-weight:400;letter-spacing:-0.180px;">23</span>
<span id="t2025" class="t" style="left:635.50px;top:847.20px;font-size:12px;line-height:16px;color:#131722;font-weight:700;letter-spacing:0.074px;">2025</span>
<span id="t6" class="t" style="left:732.50px;top:847.20px;font-size:12px;line-height:16px;color:#131722;font-weight:400;transform:translateX(-50%);">6</span>
<span id="t13" class="t" style="left:843.50px;top:847.20px;font-size:12px;line-height:16px;color:#131722;font-weight:400;letter-spacing:-0.180px;">13</span>
<span id="t20" class="t" style="left:960.50px;top:847.20px;font-size:12px;line-height:16px;color:#131722;font-weight:400;letter-spacing:-0.180px;">20</span>
<span id="t27" class="t" style="left:1078.00px;top:847.20px;font-size:12px;line-height:16px;color:#131722;font-weight:400;letter-spacing:-0.180px;">27</span>
<span id="t2m" class="t" style="left:1160.00px;top:847.20px;font-size:12px;line-height:16px;color:#131722;font-weight:500;letter-spacing:-0.359px;">2월</span>
<span id="t10" class="t" style="left:1313.50px;top:847.20px;font-size:12px;line-height:16px;color:#131722;font-weight:400;letter-spacing:-0.180px;">10</span>
<span id="t17" class="t" style="left:1430.50px;top:847.20px;font-size:12px;line-height:16px;color:#131722;font-weight:400;letter-spacing:-0.180px;">17</span>
<span id="b1d" class="t" style="left:65.40px;top:880.60px;font-size:14px;line-height:18px;color:#131722;font-weight:500;letter-spacing:-0.436px;">1일</span>
<span id="b5d" class="t" style="left:97.90px;top:880.60px;font-size:14px;line-height:18px;color:#131722;font-weight:500;letter-spacing:0.014px;">5날</span>
<span id="b1m" class="t" style="left:132.00px;top:880.60px;font-size:14px;line-height:18px;color:#131722;font-weight:500;letter-spacing:-0.336px;">1달</span>
<span id="b3m" class="t" style="left:164.80px;top:880.60px;font-size:14px;line-height:18px;color:#131722;font-weight:500;letter-spacing:-0.336px;">3달</span>
<span id="b6m" class="t" style="left:198.20px;top:880.60px;font-size:14px;line-height:18px;color:#131722;font-weight:500;letter-spacing:0.014px;">6달</span>
<span id="bytd" class="t" style="left:231.60px;top:880.60px;font-size:14px;line-height:18px;color:#131722;font-weight:400;transform:scaleX(0.8964);transform-origin:0 50%;">YTD</span>
<span id="b1y" class="t" style="left:269.00px;top:880.60px;font-size:14px;line-height:18px;color:#131722;font-weight:500;letter-spacing:-0.336px;">1해</span>
<span id="b5y" class="t" style="left:301.80px;top:880.60px;font-size:14px;line-height:18px;color:#131722;font-weight:500;letter-spacing:0.014px;">5해</span>
<span id="ball" class="t" style="left:335.60px;top:880.60px;font-size:14px;line-height:18px;color:#131722;font-weight:500;letter-spacing:0.217px;">전체</span>
<span id="clock" class="t" style="left:1448.60px;top:880.25px;font-size:13.5px;line-height:17.5px;color:#131722;font-weight:400;letter-spacing:-0.081px;">21:04:28 UTC+9</span>
<span id="rl1" class="t" style="left:60.30px;top:582.90px;font-size:11px;line-height:15px;color:#131722;font-weight:400;letter-spacing:-0.548px;">RSI</span>
<span id="rl2" class="t" style="left:82.40px;top:582.40px;font-size:12px;line-height:16px;color:#787b86;font-weight:400;letter-spacing:0.125px;">14 close</span>
<span id="rl3" class="t" style="left:137.10px;top:582.40px;font-size:12px;line-height:16px;color:#7e57c2;font-weight:400;letter-spacing:0.274px;">42.49</span>
<span id="rl4" class="t" style="left:175.20px;top:582.40px;font-size:12px;line-height:16px;color:#f5c518;font-weight:400;letter-spacing:0.154px;">48.01</span>
<span id="rl5" class="t" style="left:217.10px;top:583.40px;font-size:10px;line-height:14px;color:#131722;font-weight:400;transform:translateX(-50%);">∅</span>
<span id="rl6" class="t" style="left:231.45px;top:583.40px;font-size:10px;line-height:14px;color:#131722;font-weight:400;transform:translateX(-50%);">∅</span>
<span id="w1" class="t" style="left:832.20px;top:104.25px;font-size:8.5px;line-height:12.5px;color:#131722;font-weight:700;transform:translateX(-50%);">1</span>
<span id="w5" class="t" style="left:847.00px;top:104.25px;font-size:8.5px;line-height:12.5px;color:#131722;font-weight:700;transform:translateX(-50%);">5</span>
<span id="wA" class="t" style="left:870.70px;top:104.25px;font-size:8.5px;line-height:12.5px;color:#131722;font-weight:700;transform:translateX(-50%);">A</span>
<span id="wC" class="t" style="left:885.00px;top:104.25px;font-size:8.5px;line-height:12.5px;color:#131722;font-weight:700;transform:translateX(-50%);">C</span>
<span id="tv" class="t" style="left:99.90px;top:807.60px;font-size:20px;line-height:24px;color:#111;font-weight:700;letter-spacing:0.332px;text-shadow:-1px -1px 0 #fff,1px -1px 0 #fff,-1px 1px 0 #fff,1px 1px 0 #fff,0 -1.5px 0 #fff,0 1.5px 0 #fff,-1.5px 0 0 #fff,1.5px 0 0 #fff;">TradingView</span>
</body></html>
